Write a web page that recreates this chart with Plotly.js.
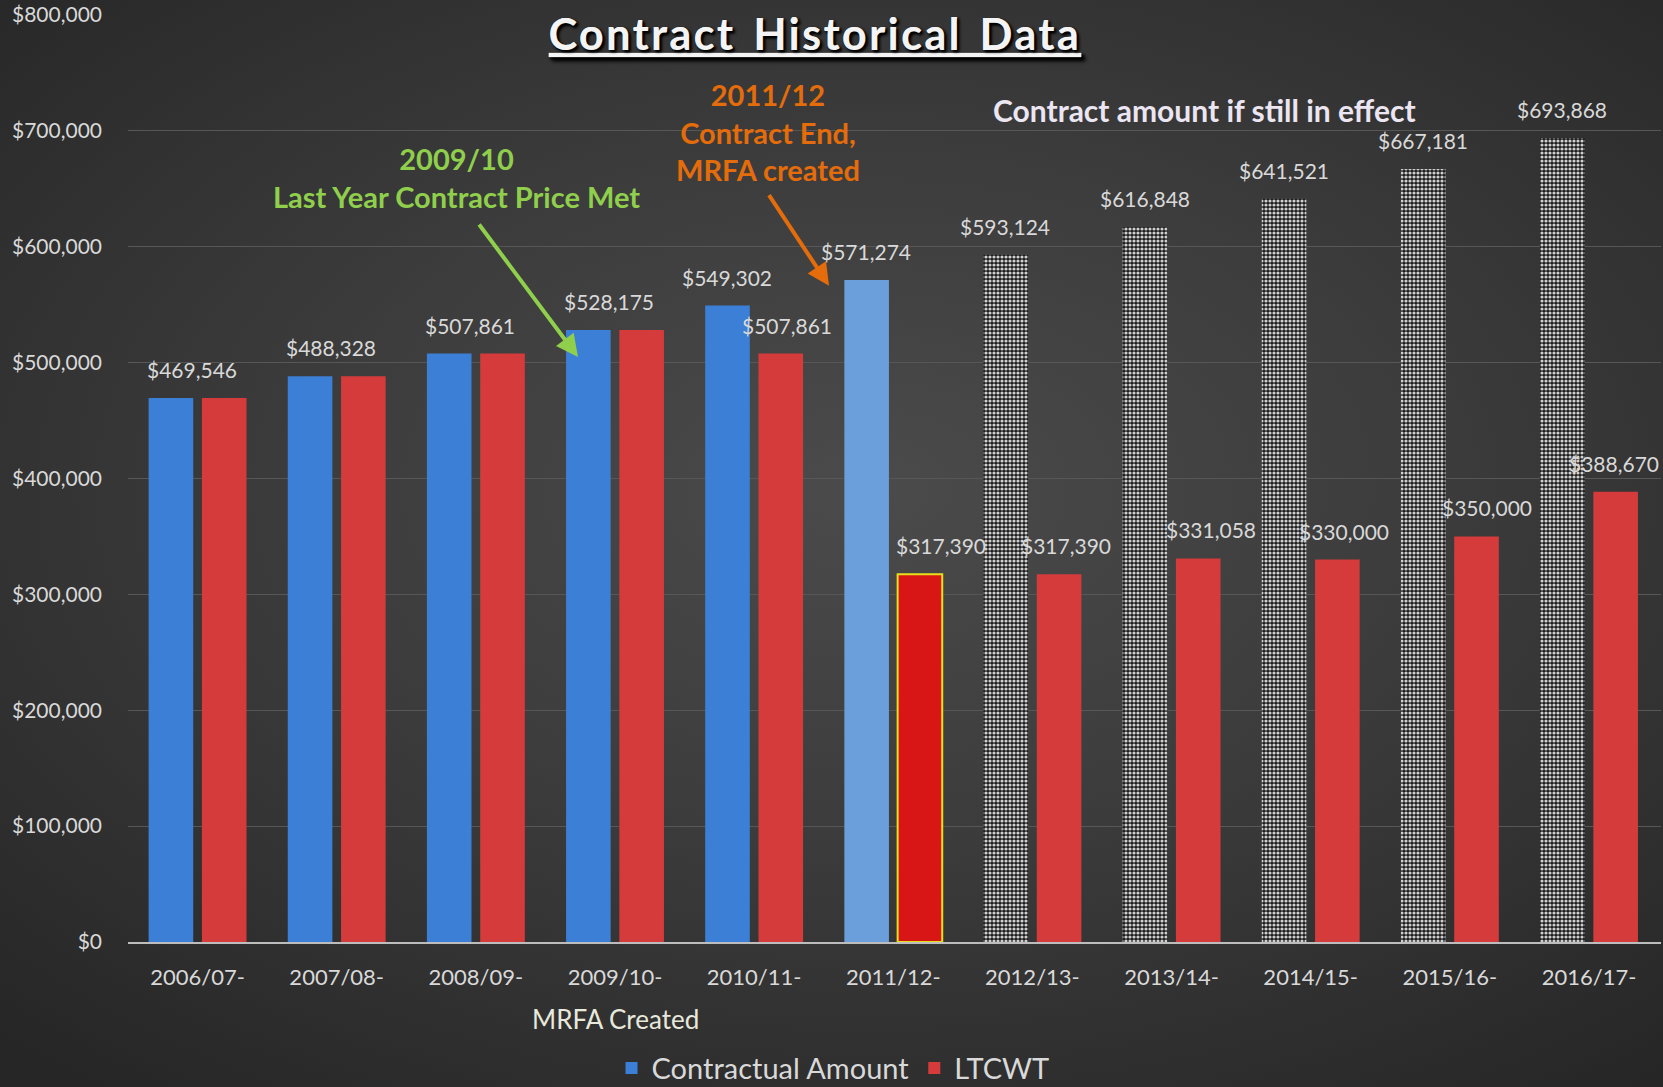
<!DOCTYPE html>
<html>
<head>
<meta charset="utf-8">
<script src="https://cdn.plot.ly/plotly-3.0.1.min.js"></script>
<style>
  html, body { margin: 0; padding: 0; width: 1663px; height: 1087px; overflow: hidden;
    background: radial-gradient(ellipse 75% 70% at 52% 45%, #4b4b4b 0%, #3c3c3c 45%, #262626 100%); }
  #chart { width: 1663px; height: 1087px; }
  #chart .gtitle { letter-spacing: 2.5px; word-spacing: 5px; }
</style>
</head>
<body>
<div id="chart"></div>
<script>
// ---- data ----
const categories = ["2006/07-", "2007/08-", "2008/09-", "2009/10-", "2010/11-", "2011/12-",
                    "2012/13-", "2013/14-", "2014/15-", "2015/16-", "2016/17-"];
const contractCategories = ["2006/07-", "2007/08-", "2008/09-", "2009/10-", "2010/11-", "2011/12-"];
const contractualAmount = [469546, 488328, 507861, 528175, 549302, 571274];
const projectedCategories = ["2012/13-", "2013/14-", "2014/15-", "2015/16-", "2016/17-"];
const projectedAmount = [593124, 616848, 641521, 667181, 693868];
const ltcwt = [469546, 488328, 507861, 528175, 507861, 317390, 317390, 331058, 330000, 350000, 388670];
const yTickVals = [0, 100000, 200000, 300000, 400000, 500000, 600000, 700000, 800000];
const yTickText = ["$0", "$100,000", "$200,000", "$300,000", "$400,000", "$500,000", "$600,000", "$700,000", "$800,000"];

const fmt = v => "$" + v.toLocaleString("en-US");
const FONT = "Lato, 'Noto Sans', sans-serif";
const LABEL_COLOR = "#d9d9d9";

// styles
const blueColors = contractualAmount.map((v, i) => i === 5 ? "#6a9fdb" : "#3c7fd6");
const redColors = ltcwt.map((v, i) => i === 5 ? "#d81616" : "#d63b3b");
const redLineW = ltcwt.map((v, i) => i === 5 ? 2 : 0);
const redLineC = ltcwt.map((v, i) => i === 5 ? "#e6e01a" : "rgba(0,0,0,0)");
// label nudges (pixels) relative to the red bar centre, as placed in the original
const redLabelNudge = [0, 0, 0, 0, 6, 21, 7, 12, 6, 10, -2];

const traces = [
  {
    type: "bar", name: "Contractual Amount", x: contractCategories, y: contractualAmount,
    offsetgroup: "A", marker: { color: blueColors, line: { width: 0 } }, hoverinfo: "skip"
  },
  {
    type: "bar", name: "Contract amount if still in effect", x: projectedCategories, y: projectedAmount,
    offsetgroup: "A", showlegend: false, hoverinfo: "skip",
    marker: { color: "#9a9a9a", line: { width: 0 },
      pattern: { shape: ".", size: 4, solidity: 0.5, fgcolor: "#cfcfcf", bgcolor: "#1c1c1c", fillmode: "replace" } }
  },
  {
    type: "bar", name: "LTCWT", x: categories, y: ltcwt, offsetgroup: "B", hoverinfo: "skip",
    marker: { color: redColors, line: { width: redLineW, color: redLineC } }
  }
];

// data labels built from the arrays
const blueAll = contractualAmount.concat(projectedAmount);
const annotations = [];
categories.forEach((c, i) => {
  const b = blueAll[i], r = ltcwt[i];
  const base = { xref: "x", yref: "y", x: i, showarrow: false, yanchor: "bottom", yshift: 14,
                 xanchor: "center", font: { family: FONT, size: 21, color: LABEL_COLOR } };
  if (b === r) {
    annotations.push(Object.assign({}, base, { y: b, text: fmt(b), xshift: -6 }));
  } else {
    annotations.push(Object.assign({}, base, { y: b, text: fmt(b), xshift: -27 }));
    annotations.push(Object.assign({}, base, { y: r, text: fmt(r), xshift: 27 + redLabelNudge[i] }));
  }
});

// callouts
const L = 128, PW = 1663 - 128 - 2;
const px = fx => (fx - L) / PW;
annotations.push({ xref: "paper", yref: "paper", x: px(456), y: 0.825, showarrow: false,
  xanchor: "center", yanchor: "middle",
  text: "<b>2009/10</b><br><b>Last Year Contract Price Met</b>", align: "center",
  font: { family: FONT, size: 29, color: "#8fcf4c" } });
annotations.push({ xref: "paper", yref: "paper", x: px(578), y: 0.631, showarrow: true,
  ax: -100, ay: -134, arrowhead: 2, arrowsize: 1.1, arrowwidth: 4, arrowcolor: "#8fcf4c", text: "" });
annotations.push({ xref: "paper", yref: "paper", x: px(768), y: 0.874, showarrow: false,
  xanchor: "center", yanchor: "middle",
  text: "<b>2011/12</b><br><b>Contract End,</b><br><b>MRFA created</b>", align: "center",
  font: { family: FONT, size: 29, color: "#e46c0a" } });
annotations.push({ xref: "paper", yref: "paper", x: px(829), y: 0.708, showarrow: true,
  ax: -61, ay: -92, arrowhead: 2, arrowsize: 1.1, arrowwidth: 4, arrowcolor: "#e46c0a", text: "" });
annotations.push({ xref: "paper", yref: "paper", x: px(1204), y: 0.897, showarrow: false,
  xanchor: "center", yanchor: "middle",
  text: "<b>Contract amount if still in effect</b>",
  font: { family: FONT, size: 30, color: "#ebe6f2" } });
annotations.push({ xref: "x", yref: "paper", x: 3, y: 0, showarrow: false, xanchor: "center", yanchor: "middle",
  yshift: -77, text: "MRFA Created", font: { family: FONT, size: 26, color: "#e8e8dc" } });

const layout = {
  width: 1663, height: 1087,
  paper_bgcolor: "rgba(0,0,0,0)", plot_bgcolor: "rgba(0,0,0,0)",
  margin: { l: L, r: 2, t: 15, b: 145, autoexpand: false },
  font: { family: FONT, color: LABEL_COLOR },
  title: {
    text: "<b>Contract Historical Data</b>",
    x: 815 / 1663, xref: "container", xanchor: "center",
    y: 0.968, yref: "container", yanchor: "middle",
    font: { family: FONT, size: 43, color: "#f4f4f4", lineposition: "under", shadow: "2px 2px 3px #000" }
  },
  barmode: "group", bargap: 0.234, bargroupgap: 0.163,
  xaxis: {
    type: "category", categoryorder: "array", categoryarray: categories,
    showgrid: false, showline: true, linecolor: "#bdbdbd", linewidth: 2,
    ticks: "", ticklabelstandoff: 15,
    tickfont: { family: FONT, size: 22, color: LABEL_COLOR }, fixedrange: true
  },
  yaxis: {
    range: [0, 800000], tickvals: yTickVals, ticktext: yTickText,
    showgrid: true, gridcolor: "#575757", gridwidth: 1, zeroline: false,
    ticks: "", ticklabelstandoff: 25,
    tickfont: { family: FONT, size: 21, color: LABEL_COLOR }, fixedrange: true
  },
  showlegend: true,
  legend: {
    orientation: "h", x: px(833), xanchor: "center", y: -0.136, yanchor: "middle",
    font: { family: FONT, size: 29, color: LABEL_COLOR }, bgcolor: "rgba(0,0,0,0)",
    itemwidth: 30
  },
  annotations: annotations
};

Plotly.newPlot("chart", traces, layout, { displayModeBar: false, staticPlot: true });
</script>
</body>
</html>
